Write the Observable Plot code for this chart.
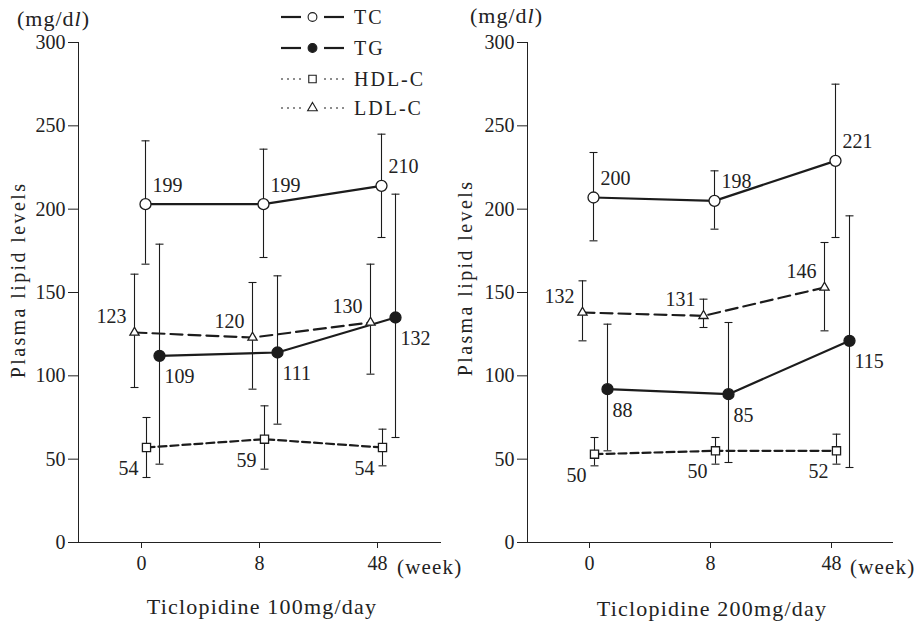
<!DOCTYPE html>
<html><head><meta charset="utf-8">
<script src="https://cdn.jsdelivr.net/npm/d3@7"></script>
<script src="https://cdn.jsdelivr.net/npm/@observablehq/plot@0.6"></script>
<style>
body{margin:0;background:#fff;}
#chart{position:relative;width:922px;height:624px;overflow:hidden;font-family:"Liberation Serif","DejaVu Serif",serif;color:#222;}
.abs{position:absolute;white-space:nowrap;line-height:1;}
.plotbox{position:absolute;top:0;}
</style></head><body><div id="chart"></div>
<script>
// ---- data ----
const weeks = ["0", "8", "48"];

// Ticlopidine 100 mg/day
const tc100 = [203, 203, 214], tc100Lo = [167, 171, 183], tc100Hi = [241, 236, 245], tc100Labels = ["199", "199", "210"];
const tg100 = [112, 114, 135], tg100Lo = [47, 71, 63], tg100Hi = [179, 160, 209], tg100Labels = ["109", "111", "132"];
const hdl100 = [57, 62, 57], hdl100Lo = [39, 44, 46], hdl100Hi = [75, 82, 68], hdl100Labels = ["54", "59", "54"];
const ldl100 = [126, 123, 132], ldl100Lo = [93, 92, 101], ldl100Hi = [161, 156, 167], ldl100Labels = ["123", "120", "130"];

// Ticlopidine 200 mg/day
const tc200 = [207, 205, 229], tc200Lo = [181, 188, 183], tc200Hi = [234, 223, 275], tc200Labels = ["200", "198", "221"];
const tg200 = [92, 89, 121], tg200Lo = [55, 48, 45], tg200Hi = [131, 132, 196], tg200Labels = ["88", "85", "115"];
const hdl200 = [53, 55, 55], hdl200Lo = [46, 47, 47], hdl200Hi = [63, 63, 65], hdl200Labels = ["50", "50", "52"];
const ldl200 = [138, 136, 153], ldl200Lo = [121, 129, 127], ldl200Hi = [157, 146, 180], ldl200Labels = ["132", "131", "146"];

const yTicks = [0, 50, 100, 150, 200, 250, 300];
const seriesNames = ["TC", "TG", "HDL-C", "LDL-C"];

// ---- styles ----
const ink = "#1c1c1c";
const font = '"Liberation Serif","DejaVu Serif",serif';
const styleOf = {
  "TC":    {dx: 4,  dash: null,  width: 2.2, symbol: "circle", fill: "white", r: 5.5, lblDx: 7,  lblDy: -19, anchor: "start"},
  "TG":    {dx: 18, dash: null,  width: 2.2, symbol: "circle", fill: ink,     r: 5.5, lblDx: 5,  lblDy: 21,  anchor: "start"},
  "HDL-C": {dx: 5,  dash: "8,4", width: 2.2, symbol: "square", fill: "white", r: 4.6, lblDx: -8, lblDy: 21,  anchor: "end"},
  "LDL-C": {dx: -7, dash: "12,6",width: 2.2, symbol: "triangle", fill: "white", r: 3.4, lblDx: -8, lblDy: -16, anchor: "end"}
};
// horizontal cap symbol for error bars
const capSymbol = {draw(ctx, size) { const h = Math.sqrt(size / Math.PI); ctx.moveTo(-h, 0); ctx.lineTo(h, 0); }};

function rows(v, lo, hi, lab) {
  return weeks.map((w, i) => ({week: w, value: v[i], lo: lo[i], hi: hi[i], label: lab[i]}));
}

const panel100 = {
  "TC": rows(tc100, tc100Lo, tc100Hi, tc100Labels),
  "TG": rows(tg100, tg100Lo, tg100Hi, tg100Labels),
  "HDL-C": rows(hdl100, hdl100Lo, hdl100Hi, hdl100Labels),
  "LDL-C": rows(ldl100, ldl100Lo, ldl100Hi, ldl100Labels)
};
const panel200 = {
  "TC": rows(tc200, tc200Lo, tc200Hi, tc200Labels),
  "TG": rows(tg200, tg200Lo, tg200Hi, tg200Labels),
  "HDL-C": rows(hdl200, hdl200Lo, hdl200Hi, hdl200Labels),
  "LDL-C": rows(ldl200, ldl200Lo, ldl200Hi, ldl200Labels)
};

function makePanel(data, layout) {
  const marks = [];
  for (const name of seriesNames) {
    const s = styleOf[name], d = data[name];
    marks.push(Plot.ruleX(d, {x: "week", y1: "lo", y2: "hi", dx: s.dx, stroke: ink, strokeWidth: 1.1}));
    marks.push(Plot.dot(d, {x: "week", y: "lo", dx: s.dx, symbol: capSymbol, r: 4, fill: "none", stroke: ink, strokeWidth: 1.1}));
    marks.push(Plot.dot(d, {x: "week", y: "hi", dx: s.dx, symbol: capSymbol, r: 4, fill: "none", stroke: ink, strokeWidth: 1.1}));
  }
  for (const name of seriesNames) {
    const s = styleOf[name], d = data[name];
    marks.push(Plot.line(d, {x: "week", y: "value", dx: s.dx, stroke: ink, strokeWidth: s.width, strokeDasharray: s.dash}));
  }
  for (const name of seriesNames) {
    const s = styleOf[name], d = data[name];
    marks.push(Plot.dot(d, {x: "week", y: "value", dx: s.dx, symbol: s.symbol, r: s.r, fill: s.fill, stroke: ink, strokeWidth: 1.3}));
    marks.push(Plot.text(d, {x: "week", y: "value", text: "label", dx: s.dx + s.lblDx, dy: s.lblDy,
      textAnchor: s.anchor, fontSize: 20, fill: "#222", fontFamily: font}));
  }
  return Plot.plot({
    width: layout.width, height: 624,
    marginLeft: layout.ml, marginRight: layout.mr, marginTop: 42, marginBottom: 82,
    x: {type: "point", domain: weeks, padding: layout.pad, line: true, tickSize: 6, tickPadding: 7, label: null},
    y: {domain: [0, 300], ticks: yTicks, line: true, tickSize: 10, tickPadding: 3, label: null},
    style: {background: "transparent", fontFamily: font, fontSize: "20px", color: "#222", overflow: "visible"},
    marks
  });
}

const chart = document.getElementById("chart");

function place(el, left) {
  const box = document.createElement("div");
  box.className = "plotbox";
  box.style.left = left + "px";
  box.appendChild(el);
  chart.appendChild(box);
}
place(makePanel(panel100, {width: 470, ml: 78, mr: 30, pad: 0.53}), 0);
place(makePanel(panel200, {width: 472, ml: 77, mr: 30, pad: 0.5}), 450);

function addText(html, x, y, opts = {}) {
  const el = document.createElement("div");
  el.className = "abs";
  el.innerHTML = html;
  el.style.left = x + "px";
  el.style.top = y + "px";
  el.style.fontSize = (opts.size || 20) + "px";
  if (opts.ls) el.style.letterSpacing = opts.ls + "px";
  el.style.transform = opts.transform || "translate(0,-50%)";
  chart.appendChild(el);
}
// unit labels
addText("(mg/d<i>l</i>)", 17, 19, {size: 22, ls: 1});
addText("(mg/d<i>l</i>)", 470, 16, {size: 22, ls: 1});
// y titles
addText("Plasma lipid levels", 18, 280, {size: 20, ls: 2.4, transform: "translate(-50%,-50%) rotate(-90deg)"});
addText("Plasma lipid levels", 465, 278, {size: 20, ls: 2.4, transform: "translate(-50%,-50%) rotate(-90deg)"});
// week unit
addText("(week)", 397, 567, {size: 21, ls: 1.2});
addText("(week)", 850, 567, {size: 21, ls: 1.2});
// x titles
addText("Ticlopidine 100mg/day", 262, 607, {size: 22, ls: 1.2, transform: "translate(-50%,-50%)"});
addText("Ticlopidine 200mg/day", 712, 609, {size: 22, ls: 1.2, transform: "translate(-50%,-50%)"});

// legend
const legendRows = [
  {name: "TC", y: 17, dot: false},
  {name: "TG", y: 48, dot: false},
  {name: "HDL-C", y: 79, dot: true},
  {name: "LDL-C", y: 108, dot: true}
];
const lsvg = d3.select(chart).append("svg")
  .attr("width", 200).attr("height", 125)
  .style("position", "absolute").style("left", "270px").style("top", "0px");
const sym = {circle: d3.symbolCircle, square: d3.symbolSquare, triangle: d3.symbolTriangle};
for (const r of legendRows) {
  const s = styleOf[r.name];
  const g = lsvg.append("g").attr("transform", `translate(0,${r.y})`);
  const dash = r.dot ? "2,4" : null;
  const sw = r.dot ? 1.2 : 2.2;
  g.append("line").attr("x1", 11).attr("x2", 31).attr("stroke", ink).attr("stroke-width", sw).attr("stroke-dasharray", dash);
  g.append("line").attr("x1", 54).attr("x2", 74).attr("stroke", ink).attr("stroke-width", sw).attr("stroke-dasharray", dash);
  const rr = r.name === "TC" || r.name === "TG" ? 4.4 : (r.name === "HDL-C" ? 4.2 : 3.6);
  g.append("path").attr("transform", "translate(42.5,0)")
    .attr("d", d3.symbol(sym[s.symbol], rr * rr * Math.PI)())
    .attr("fill", s.fill).attr("stroke", ink).attr("stroke-width", 1.1);
  g.append("text").attr("x", 84).attr("dy", "0.35em").attr("font-family", font).attr("font-size", 20)
    .attr("letter-spacing", 2).attr("fill", "#222").text(r.name);
}
</script>
</body></html>
